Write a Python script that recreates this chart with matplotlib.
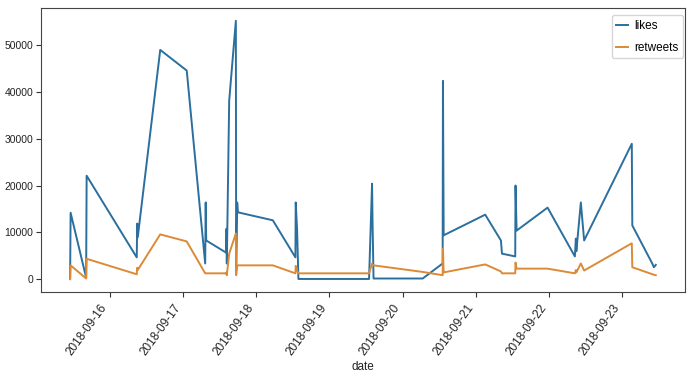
import pandas as pd
import matplotlib
matplotlib.use("Agg")
import matplotlib.pyplot as plt
import matplotlib.dates as mdates

# ----------------------
# Data
# ----------------------
dates = [
    "2018-09-15 11:00", "2018-09-15 11:10", "2018-09-15 16:15", "2018-09-15 16:25",
    "2018-09-16 08:50", "2018-09-16 09:00", "2018-09-16 09:10", "2018-09-16 16:32",
    "2018-09-17 01:13", "2018-09-17 07:16", "2018-09-17 07:26", "2018-09-17 07:36",
    "2018-09-17 14:09", "2018-09-17 14:15", "2018-09-17 14:21", "2018-09-17 15:08",
    "2018-09-17 17:19", "2018-09-17 17:25", "2018-09-17 17:45", "2018-09-17 17:59",
    "2018-09-18 05:26", "2018-09-18 12:50", "2018-09-18 12:56", "2018-09-18 13:23",
    "2018-09-18 13:49", "2018-09-19 12:58", "2018-09-19 13:57", "2018-09-19 14:07",
    "2018-09-19 14:26", "2018-09-20 06:33", "2018-09-20 13:05", "2018-09-20 13:11",
    "2018-09-20 13:25", "2018-09-21 03:02", "2018-09-21 08:11", "2018-09-21 08:31",
    "2018-09-21 12:52", "2018-09-21 12:58", "2018-09-21 13:19", "2018-09-21 23:28",
    "2018-09-22 08:25", "2018-09-22 08:44", "2018-09-22 08:54", "2018-09-22 10:22",
    "2018-09-22 11:27", "2018-09-23 03:04", "2018-09-23 03:14", "2018-09-23 09:51",
    "2018-09-23 10:18", "2018-09-23 10:56",
]

likes = [
    200, 14200, 400, 22100,
    4700, 11900, 9000, 48900,
    44500, 3400, 16400, 8300,
    5700, 10800, 3400, 38100,
    55100, 2000, 16400, 14300,
    12600, 4700, 16400, 10600,
    100, 100, 20400, 12000,
    200, 200, 3400, 42300,
    9400, 13800, 8300, 5500,
    4900, 20000, 10400, 15300,
    4900, 8700, 6000, 16400,
    8300, 28900, 11500, 3300,
    2600, 3100,
]

retweets = [
    50, 3000, 200, 4400,
    1100, 2500, 2000, 9600,
    8100, 1300, 1300, 1300,
    1300, 1500, 900, 5500,
    9800, 900, 3000, 3000,
    3000, 1300, 2900, 1800,
    1300, 1300, 3400, 3000,
    3000, 1600, 900, 6600,
    1500, 3200, 1700, 1300,
    1300, 3600, 2300, 2300,
    1300, 2000, 1500, 3400,
    1900, 7700, 2600, 1100,
    1000, 900,
]

ytick_values = [0, 10000, 20000, 30000, 40000, 50000]


def main():
    df = pd.DataFrame({"date": pd.to_datetime(dates), "likes": likes, "retweets": retweets})

    # narrow-ish font, the reference text looks condensed
    plt.rcParams["font.family"] = ["Liberation Sans Narrow", "Liberation Sans", "DejaVu Sans"]

    fig = plt.figure(figsize=(6.92, 3.75), dpi=100)
    ax = fig.add_axes([0.059, 0.221, 0.931, 0.758])

    ax.plot(df["date"], df["likes"], color="#2b6f9e", linewidth=1.4, label="likes")
    ax.plot(df["date"], df["retweets"], color="#dc8a36", linewidth=1.4, label="retweets")

    ax.set_yticks(ytick_values)
    ax.tick_params(axis="both", colors="#333333", labelcolor="#222222")
    ax.tick_params(axis="y", labelsize=7.5, pad=2)
    ax.tick_params(axis="x", labelsize=8.5)
    ax.xaxis.set_major_locator(mdates.DayLocator())
    ax.xaxis.set_major_formatter(mdates.DateFormatter("%Y-%m-%d"))
    for label in ax.get_xticklabels():
        label.set_rotation(54)
        label.set_ha("right")

    for spine in ax.spines.values():
        spine.set_color("#444444")

    ax.set_xlabel("date", fontsize=8.5, labelpad=2, color="#222222")
    ax.legend(loc="upper right", bbox_to_anchor=(0.997, 0.975), borderaxespad=0,
              fontsize=8.5, handlelength=1.0, handletextpad=0.5, labelspacing=0.85)

    fig.savefig("out.png", dpi=100)
    plt.close(fig)


if __name__ == "__main__":
    main()
